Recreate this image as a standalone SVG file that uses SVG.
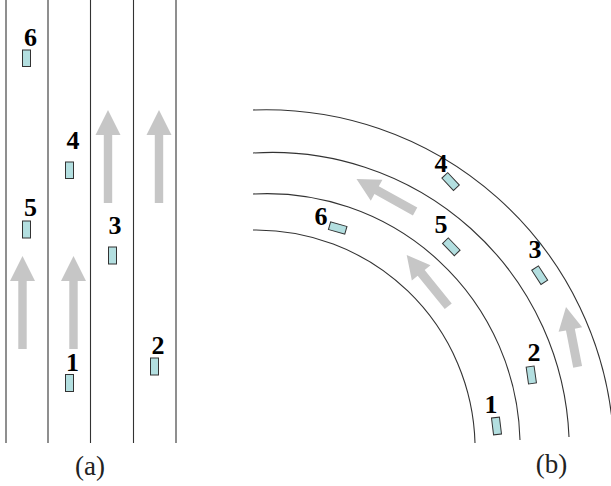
<svg xmlns="http://www.w3.org/2000/svg" width="611" height="486" viewBox="0 0 611 486">
<style>
.ln{fill:none;stroke:#333;stroke-width:1.1}
.car{fill:#b3dfe0;stroke:#333;stroke-width:1}
.ar{fill:#c6c6c6;stroke:none}
.num{font-family:"Liberation Serif","Times New Roman",serif;font-weight:bold;font-size:26px;text-anchor:middle;fill:#000}
.cap{font-family:"Liberation Serif","Times New Roman",serif;font-size:27px;text-anchor:middle;fill:#222}
</style>
<rect width="611" height="486" fill="#fff"/>
<g id="connectors">
<line class="ln" x1="6" y1="0" x2="6" y2="443"/>
<line class="ln" x1="48" y1="0" x2="48" y2="443"/>
<line class="ln" x1="90.5" y1="0" x2="90.5" y2="443"/>
<line class="ln" x1="133.5" y1="0" x2="133.5" y2="443"/>
<line class="ln" x1="176" y1="0" x2="176" y2="443"/>
<path class="ln" d="M253,230 A219,219 0 0 1 475,443"/>
<path class="ln" d="M253,194 A253,253 0 0 1 520,440"/>
<path class="ln" d="M253,153 A297,297 0 0 1 569,437"/>
<path class="ln" d="M253,110 A348,348 0 0 1 613,430"/>
<path class="ar" transform="translate(22.5,256)" d="M0,0 L12.5,25 L4.2,25 L4.2,93 L-4.2,93 L-4.2,25 L-12.5,25 Z"/>
<path class="ar" transform="translate(73.5,256)" d="M0,0 L12.5,25 L4.2,25 L4.2,93 L-4.2,93 L-4.2,25 L-12.5,25 Z"/>
<path class="ar" transform="translate(108,110)" d="M0,0 L12.5,25 L4.2,25 L4.2,93 L-4.2,93 L-4.2,25 L-12.5,25 Z"/>
<path class="ar" transform="translate(159,110)" d="M0,0 L12.5,25 L4.2,25 L4.2,93 L-4.2,93 L-4.2,25 L-12.5,25 Z"/>
<path class="ar" transform="translate(356.5,179) rotate(-61)" d="M0,0 L12,23 L4.5,23 L4.5,67 L-4.5,67 L-4.5,23 L-12,23 Z"/>
<path class="ar" transform="translate(406.7,255) rotate(-39)" d="M0,0 L12,23 L4.5,23 L4.5,66 L-4.5,66 L-4.5,23 L-12,23 Z"/>
<path class="ar" transform="translate(566,307) rotate(-11)" d="M0,0 L12,23 L4.5,23 L4.5,61 L-4.5,61 L-4.5,23 L-12,23 Z"/>
</g>
<g id="a1"><rect class="car" x="65.5" y="374.5" width="8" height="17"/><text class="num" x="72.5" y="371">1</text></g>
<g id="a2"><rect class="car" x="150.5" y="358" width="8" height="17"/><text class="num" x="158" y="354">2</text></g>
<g id="a3"><rect class="car" x="108.5" y="247" width="8" height="17"/><text class="num" x="115" y="234">3</text></g>
<g id="a4"><rect class="car" x="65.5" y="162" width="8" height="16.5"/><text class="num" x="73" y="149">4</text></g>
<g id="a5"><rect class="car" x="22.5" y="221" width="8" height="17"/><text class="num" x="30.5" y="216">5</text></g>
<g id="a6"><rect class="car" x="22.5" y="50" width="8" height="16.5"/><text class="num" x="30.5" y="46">6</text></g>
<g id="b1"><rect class="car" x="-4" y="-8.5" width="8" height="17" transform="translate(496.5,426) rotate(-7)"/><text class="num" x="491" y="413">1</text></g>
<g id="b2"><rect class="car" x="-4" y="-8.5" width="8" height="17" transform="translate(531.3,375) rotate(-8)"/><text class="num" x="534" y="361">2</text></g>
<g id="b3"><rect class="car" x="-4" y="-8.5" width="8" height="17" transform="translate(539.7,275.2) rotate(-33)"/><text class="num" x="535" y="258">3</text></g>
<g id="b4"><rect class="car" x="-4" y="-8.5" width="8" height="17" transform="translate(450.6,181.6) rotate(-43)"/><text class="num" x="441" y="171.5">4</text></g>
<g id="b5"><rect class="car" x="-4" y="-8.5" width="8" height="17" transform="translate(451.3,246.8) rotate(-44)"/><text class="num" x="441" y="233">5</text></g>
<g id="b6"><rect class="car" x="-8.5" y="-4" width="17" height="8" transform="translate(337.7,228) rotate(16)"/><text class="num" x="321" y="225">6</text></g>
<g id="captions">
<text class="cap" x="90" y="475">(a)</text>
<text class="cap" x="551.5" y="473">(b)</text>
</g>
</svg>
